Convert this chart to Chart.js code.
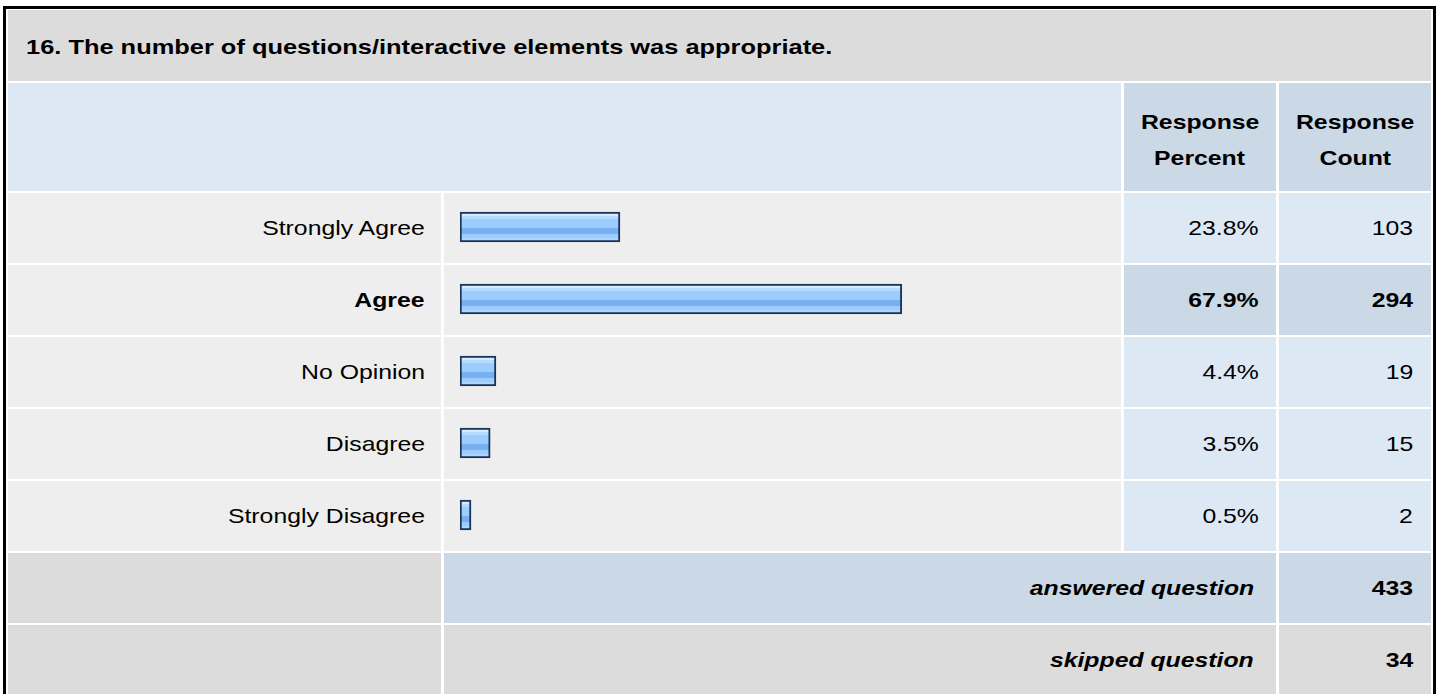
<!DOCTYPE html>
<html>
<head>
<meta charset="utf-8">
<script src="https://cdn.jsdelivr.net/npm/chart.js@4.4.1/dist/chart.umd.min.js"></script>
<style>
  html, body { margin: 0; padding: 0; background: #ffffff; }
  body { width: 1440px; height: 694px; overflow: hidden; position: relative;
         font-family: "Liberation Sans", Arial, Helvetica, sans-serif; color: #000; }
  #frame { position: absolute; left: 3px; top: 6px; width: 1427px; height: 720px;
           border: 3px solid #000; border-bottom: none; }
  .cell { position: absolute; box-sizing: border-box; display: flex; align-items: center; }
  .r { justify-content: flex-end; }
  .c { justify-content: center; }
  .t { display: inline-block; white-space: nowrap; font-size: 21px; transform: scaleX(1.18); }
  .r .t { transform-origin: right center; }
  .c .t { transform-origin: center center; }
  .l .t { transform-origin: left center; }
  .b { font-weight: bold; }
  .bi { font-weight: bold; font-style: italic; }
  #barCanvas { position: absolute; left: 460px; top: 191px; }
</style>
</head>
<body>
<div id="frame"></div>
<div id="table"></div>
<canvas id="barCanvas" width="647" height="360"></canvas>
<script>
// ---- data ----
const questionTitle = '16. The number of questions/interactive elements was appropriate.';
const headerPercent = ['Response', 'Percent'];
const headerCount = ['Response', 'Count'];
const categories = ['Strongly Agree', 'Agree', 'No Opinion', 'Disagree', 'Strongly Disagree'];
const responsePercent = [23.8, 67.9, 4.4, 3.5, 0.5];
const responseCount = [103, 294, 19, 15, 2];
const footerLabels = ['answered question', 'skipped question'];
const footerCounts = [433, 34];

// ---- layout helpers ----
const table = document.getElementById('table');
function cell(x, y, w, h, bg, cls, html, pad) {
  const d = document.createElement('div');
  d.className = 'cell ' + (cls || '');
  d.style.left = x + 'px'; d.style.top = y + 'px';
  d.style.width = w + 'px'; d.style.height = h + 'px';
  d.style.background = bg;
  if (pad) d.style.padding = pad;
  if (html !== undefined) d.innerHTML = html;
  table.appendChild(d);
  return d;
}
const GRAY = '#dcdcdc', LIGHT = '#eeeeee', BLUE = '#dde8f5', BLUE2 = '#cbd8e6';

// title row
cell(8, 10, 1423, 71, GRAY, 'l', '<span class="t b" style="transform:scaleX(1.21)">' + questionTitle + '</span>', '3px 0 0 18px');
// header row
cell(8, 83, 1113, 108, BLUE);
function hdr(x, lines) {
  const html = '<div style="display:flex;flex-direction:column;align-items:center;line-height:36px;padding-top:6px">' +
    lines.map(s => '<span class="t b" style="transform-origin:center center">' + s + '</span>').join('') + '</div>';
  cell(x, 83, 152, 108, BLUE2, 'c', html);
}
hdr(1124, headerPercent);
hdr(1279, headerCount);

// data rows
const maxIdx = responseCount.indexOf(Math.max(...responseCount));
categories.forEach((cat, i) => {
  const y = 193 + 72 * i;
  const bold = i === maxIdx;
  const fw = bold ? ' b' : '';
  cell(8, y, 433, 70, LIGHT, 'r', '<span class="t' + fw + '">' + cat + '</span>', '0 16px 0 0');
  cell(444, y, 677, 70, LIGHT);
  cell(1124, y, 152, 70, bold ? BLUE2 : BLUE, 'r', '<span class="t' + fw + '">' + responsePercent[i].toFixed(1) + '%</span>', '0 17px 0 0');
  cell(1279, y, 152, 70, bold ? BLUE2 : BLUE, 'r', '<span class="t' + fw + '">' + responseCount[i] + '</span>', '0 18px 0 0');
});

// footer rows
footerLabels.forEach((lab, i) => {
  const y = 553 + 72 * i;
  const bg = i === 0 ? BLUE2 : GRAY;
  cell(8, y, 433, 70, GRAY);
  cell(444, y, 832, 70, bg, 'r', '<span class="t bi">' + lab + '</span>', '0 22px 0 0');
  cell(1279, y, 152, 70, bg, 'r', '<span class="t b">' + footerCounts[i] + '</span>', '0 18px 0 0');
});

// ---- bars ----
const BASE = -1.22;
function barFill(ctx) {
  const chart = ctx.chart;
  if (!chart.chartArea || !chart.scales.y) return '#9ccdff';
  const yc = chart.scales.y.getPixelForValue(ctx.dataIndex);
  const top = yc - 15;
  const g = chart.ctx.createLinearGradient(0, top, 0, top + 30);
  const stops = [
    [0.0, '#d6ebff'], [0.133, '#d6ebff'],
    [0.134, '#b6dbff'], [0.233, '#b6dbff'],
    [0.234, '#9ccdff'], [0.533, '#9ccdff'],
    [0.534, '#78b0ef'], [0.733, '#78b0ef'],
    [0.734, '#9ccdff'], [0.866, '#9ccdff'],
    [0.867, '#acd6ff'], [1.0, '#acd6ff']
  ];
  stops.forEach(s => g.addColorStop(s[0], s[1]));
  return g;
}

new Chart(document.getElementById('barCanvas'), {
  type: 'bar',
  data: {
    labels: categories,
    datasets: [{
      data: responsePercent,
      base: BASE,
      barThickness: 30,
      borderWidth: 2,
      borderColor: '#1a3358',
      borderSkipped: false,
      backgroundColor: barFill
    }]
  },
  options: {
    indexAxis: 'y',
    responsive: false,
    maintainAspectRatio: false,
    animation: false,
    events: [],
    layout: { padding: 0 },
    plugins: { legend: { display: false }, tooltip: { enabled: false } },
    scales: {
      x: { type: 'linear', min: BASE, max: 100, display: false },
      y: { type: 'category', display: false, offset: true }
    }
  }
});
</script>
</body>
</html>
